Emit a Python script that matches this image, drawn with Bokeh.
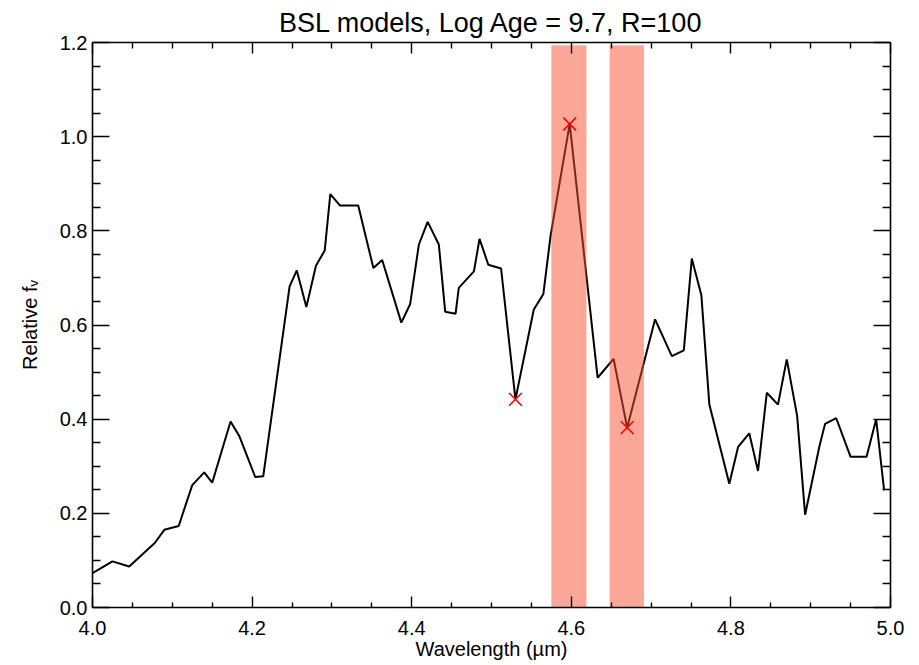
from bokeh.plotting import figure
from bokeh.models import Range1d, LinearAxis, FixedTicker, ColumnDataSource, CustomJSTickFormatter
from bokeh.embed import file_html
from bokeh.resources import INLINE

# ---- data ----
wavelength = [4.000, 4.025, 4.046, 4.078, 4.090, 4.108, 4.125, 4.140, 4.150, 4.173,
              4.184, 4.204, 4.214, 4.247, 4.256, 4.268, 4.280, 4.291, 4.298, 4.310,
              4.333, 4.352, 4.363, 4.387, 4.398, 4.409, 4.420, 4.434, 4.442, 4.455,
              4.459, 4.478, 4.485, 4.496, 4.512, 4.530, 4.553, 4.565, 4.574, 4.598,
              4.633, 4.653, 4.670, 4.705, 4.726, 4.741, 4.751, 4.763, 4.773, 4.798,
              4.809, 4.823, 4.834, 4.845, 4.859, 4.870, 4.883, 4.893, 4.911, 4.918,
              4.932, 4.950, 4.970, 4.982, 4.992]
flux = [0.073, 0.098, 0.087, 0.137, 0.165, 0.173, 0.260, 0.287, 0.265, 0.395,
        0.364, 0.277, 0.279, 0.682, 0.716, 0.638, 0.726, 0.758, 0.878, 0.854,
        0.854, 0.721, 0.738, 0.605, 0.644, 0.771, 0.819, 0.771, 0.628, 0.624,
        0.679, 0.714, 0.783, 0.728, 0.720, 0.442, 0.633, 0.666, 0.789, 1.027,
        0.488, 0.528, 0.382, 0.612, 0.534, 0.546, 0.741, 0.663, 0.431, 0.263,
        0.341, 0.370, 0.290, 0.456, 0.431, 0.527, 0.407, 0.197, 0.343, 0.390,
        0.402, 0.320, 0.320, 0.400, 0.249]

marker_wavelength = [4.530, 4.598, 4.670]
marker_flux = [0.442, 1.027, 0.382]

band_left = [4.575, 4.648]
band_right = [4.619, 4.691]
band_bottom = [0.0, 0.0]
band_top = [1.194, 1.194]

x_ticks = [4.0, 4.2, 4.4, 4.6, 4.8, 5.0]
x_tick_labels = ["4.0", "4.2", "4.4", "4.6", "4.8", "5.0"]
x_minor = [4.05, 4.1, 4.15, 4.25, 4.3, 4.35, 4.45, 4.5, 4.55, 4.65, 4.7, 4.75, 4.85, 4.9, 4.95]
y_ticks = [0.0, 0.2, 0.4, 0.6, 0.8, 1.0, 1.2]
y_tick_labels = ["0.0", "0.2", "0.4", "0.6", "0.8", "1.0", "1.2"]
y_minor = [0.05, 0.1, 0.15, 0.25, 0.3, 0.35, 0.45, 0.5, 0.55, 0.65, 0.7, 0.75,
           0.85, 0.9, 0.95, 1.05, 1.1, 1.15]

FONT = "Liberation Sans"

p = figure(width=919, height=665, output_backend="svg", toolbar_location=None,
           x_range=Range1d(4.0, 5.0), y_range=Range1d(0.0, 1.2),
           x_axis_label="Wavelength (µm)", y_axis_label="Relative fᵥ",
           title="BSL models, Log Age = 9.7, R=100",
           min_border_left=92, min_border_right=29, min_border_top=41, min_border_bottom=58)

p.title.text_font = FONT
p.title.text_font_size = "27px"
p.title.text_font_style = "normal"
p.title.align = "center"
p.title.text_color = "black"

p.xgrid.visible = False
p.ygrid.visible = False
p.outline_line_color = None
p.background_fill_color = "white"
p.border_fill_color = "white"

spec = ColumnDataSource(dict(x=wavelength, y=flux))
p.line("x", "y", source=spec, line_color="black", line_width=2)

bands = ColumnDataSource(dict(left=band_left, right=band_right, bottom=band_bottom, top=band_top))
p.quad(left="left", right="right", bottom="bottom", top="top", source=bands,
       fill_color=(248, 80, 50), fill_alpha=0.5, line_color=None)

marks = ColumnDataSource(dict(x=marker_wavelength, y=marker_flux))
p.scatter("x", "y", source=marks, marker="x", size=18, line_color="red", line_width=1.6)

xt = FixedTicker(ticks=x_ticks, minor_ticks=x_minor)
yt = FixedTicker(ticks=y_ticks, minor_ticks=y_minor)


def style(ax, ticker, major_in, minor_in, labels=None):
    ax.ticker = ticker
    ax.major_tick_in = major_in
    ax.major_tick_out = 0
    ax.minor_tick_in = minor_in
    ax.minor_tick_out = 0
    ax.axis_line_color = "black"
    ax.axis_line_width = 1.6
    ax.major_tick_line_color = "black"
    ax.major_tick_line_width = 1.4
    ax.minor_tick_line_color = "black"
    ax.minor_tick_line_width = 1.4
    ax.major_label_text_font = FONT
    ax.major_label_text_font_size = "20px"
    ax.major_label_text_color = "black"
    ax.axis_label_text_font = FONT
    ax.axis_label_text_font_size = "20px"
    ax.axis_label_text_font_style = "normal"
    ax.axis_label_text_color = "black"
    if labels is not None:
        ax.major_label_overrides = labels
    else:
        ax.formatter = CustomJSTickFormatter(code="return ''")


style(p.xaxis[0], xt, 11, 5, {t: s for t, s in zip(x_ticks, x_tick_labels)})
p.xaxis[0].major_label_standoff = 13
p.xaxis[0].axis_label_standoff = 0
style(p.yaxis[0], yt, 17, 8, {t: s for t, s in zip(y_ticks, y_tick_labels)})
p.yaxis[0].major_label_standoff = 5
p.yaxis[0].axis_label_standoff = 16

top_axis = LinearAxis()
style(top_axis, xt, 11, 6)
top_axis.major_label_standoff = 0
p.add_layout(top_axis, "above")

right_axis = LinearAxis()
style(right_axis, yt, 17, 8)
right_axis.major_label_standoff = 0
p.add_layout(right_axis, "right")

open("out.html", "w").write(file_html(p, INLINE))
